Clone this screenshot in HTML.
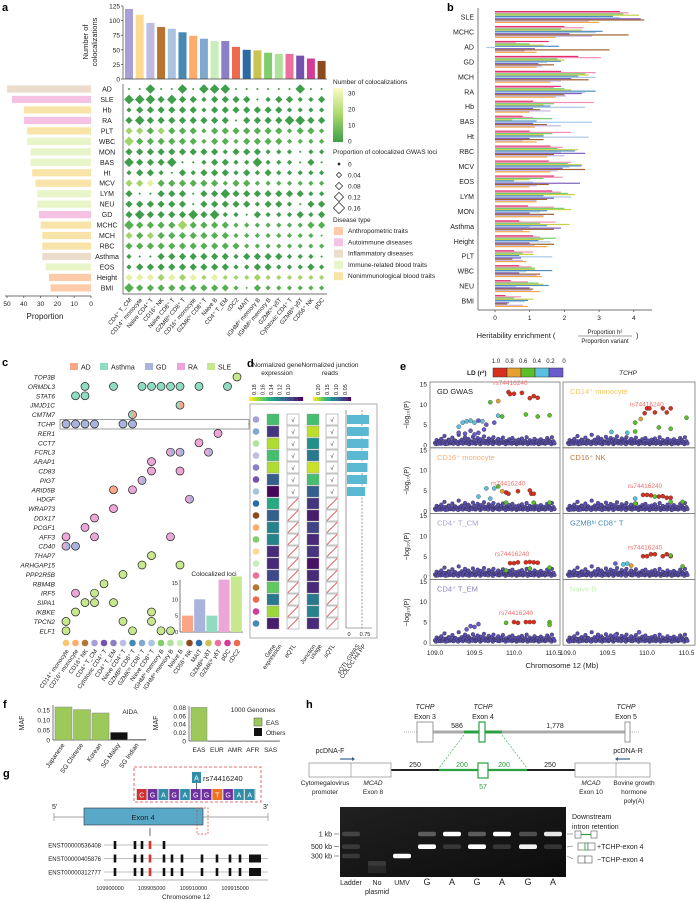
<!DOCTYPE html>
<html><head><meta charset="utf-8"><style>
html,body{margin:0;padding:0;background:#fff}
svg{display:block;font-family:"Liberation Sans",sans-serif}
</style></head><body>
<svg id="fig" xmlns="http://www.w3.org/2000/svg" width="696" height="901" viewBox="0 0 696 901">
<rect x="0" y="0" width="696" height="901" fill="#fff"/>
</svg>
<script>
// ---------- DATA ----------
const aCells=["CD4⁺ T_CM","CD14⁺ monocyte","Naive CD4⁺ T","CD16⁺ NK","Naive CD8⁺ T","GZMBʰⁱ CD8⁺ T","CD16⁺ monocyte","GZMKʰⁱ CD8⁺ T","Naive B","CD4⁺ T_EM","cDC2","MAIT","IGHMʰⁱ memory B","IGHMˡᵒ memory B","GZMKʰⁱ γδT","Cytotoxic CD4⁺ T","GZMBʰⁱ γδT","CD56⁺ NK","pDC"];
const aCounts=[120,110,96,89,86,80,74,69,65,65,55,50,49,45,43,43,40,35,31];
const aTraits=["AD","SLE","Hb","RA","PLT","WBC","MON","BAS","Ht","MCV","LYM","NEU","GD","MCHC","MCH","RBC","Asthma","EOS","Height","BMI"];
const aProportion=[50,47,40,40,38,38,36,36,35,33,32,32,31,30,29,29,29,27,25,24];
const aType=[2,1,4,1,4,3,3,3,4,4,3,3,1,4,4,4,2,3,0,0];
const aSizes=["1141141444111111411","4443433233331233223","2333333233333332222","3433333333133334433","3333333233333332332","4333333233233332222","3333333332333222122","4333411233224222131","2332132333232322222","3333333332332222222","3113331334333333322","3333331333332332133","3433334342213222323","4333343333222222233","3333333333222222221","3333333333322222222","2113333333233332221","2333333333223322232","3333333232223222222","4333333333213222222"];
const aColorLvl=["0000000000000000000","0000000000000000000","0000000000000000000","0000000000000000000","2212111111111111111","2111111111111111111","0000000000000000000","0000000000000000000","0000000000000000000","2231111111111111111","0000000000000000000","0000000000000000000","0000000000000000000","1111121111111111111","2121111111111111111","1111111111111111111","0000000000000000000","0000000000000000000","3332323232222222222","1111111111111111111"];
const bTraits=["SLE","MCHC","AD","GD","MCH","RA","Hb","BAS","Ht","RBC","MCV","EOS","LYM","MON","Asthma","Height","PLT","WBC","NEU","BMI"];
const bVals=[[3.6,3.85,3.7,4.15,3.4,3.6,4.2,4.3,2.7,3.0],[2.0,2.55,1.9,2.5,3.1,2.9,2.15,3.85,2.8,1.75],[1.55,0.6,1.0,1.4,1.85,-0.25,1.15,3.3,0.85,1.2],[2.4,3.05,1.8,2.0,1.9,1.5,1.25,1.7,1.35,1.2],[1.9,2.9,2.6,2.7,2.4,2.9,2.2,2.7,1.9,1.6],[1.9,1.7,2.0,2.2,2.9,2.6,2.5,2.0,2.05,1.75],[1.1,2.85,1.7,1.4,1.6,2.6,1.1,1.3,1.6,1.0],[0.8,1.1,1.65,0.5,1.2,2.8,1.1,1.5,1.9,1.15],[1.0,2.2,1.65,1.4,1.4,2.7,1.0,1.4,0.8,1.2],[1.6,1.95,1.8,2.4,2.3,1.9,2.6,1.7,2.0,1.5],[1.55,2.2,2.1,2.5,2.5,2.15,1.95,2.6,1.8,1.6],[1.7,1.95,1.4,1.0,0.55,1.1,2.45,1.55,1.2,1.0],[1.65,1.9,2.1,2.3,1.4,2.2,1.7,1.5,1.2,1.2],[0.95,1.7,2.0,2.2,1.5,1.3,1.0,1.7,1.4,1.4],[0.7,1.75,1.3,2.15,1.5,1.0,1.9,1.7,0.8,1.0],[1.1,1.3,1.75,1.4,1.25,1.6,1.0,1.7,1.15,1.5],[0.55,1.1,0.8,1.1,0.7,1.65,0.75,0.5,0.8,0.9],[0.7,1.05,1.15,1.15,1.65,0.9,0.7,1.3,1.2,1.35],[0.45,0.95,1.25,1.4,1.55,0.6,1.0,1.1,1.05,1.3],[0.3,0.75,0.55,1.1,0.95,0.85,0.4,0.35,0.8,0.95]];
const bTicks=[0,1,2,3,4];
const cGenes=["TOP3B","ORMDL3","STAT6","JMJD1C","CMTM7","TCHP","RER1","CCT7","FCRL3","ARAP1","CD83","PIGT","ARID5B","HDGF","WRAP73","DDX17","PCGF1","AFF3","CD40","THAP7","ARHGAP15","PPP2R5B","RBM4B","IRF5","SIPA1","IKBKE","TPCN2","ELF1"];
const cDiseases=["AD","Asthma","GD","RA","SLE"];
const cDots=[[0,18,4,-1],[1,2,1,-1],[1,5,1,-1],[1,8,1,-1],[1,9,1,-1],[1,10,1,-1],[1,11,1,-1],[1,12,1,-1],[1,14,1,-1],[1,17,1,-1],[2,1,1,-1],[2,2,1,-1],[3,12,1,0],[4,7,1,0],[5,0,2,-1],[5,1,2,-1],[5,2,2,-1],[5,3,2,-1],[5,6,2,-1],[5,7,2,-1],[6,16,3,-1],[7,14,3,-1],[8,11,3,2],[8,12,3,2],[8,15,3,2],[9,9,3,-1],[10,9,3,-1],[10,12,3,-1],[11,8,3,2],[12,5,0,-1],[12,7,3,-1],[13,13,3,2],[14,5,3,-1],[15,3,3,-1],[16,2,3,-1],[17,0,3,-1],[17,3,3,-1],[17,11,3,-1],[18,0,3,2],[18,1,2,-1],[19,9,4,-1],[20,8,4,-1],[20,12,4,-1],[21,6,4,-1],[22,4,4,-1],[23,1,3,-1],[23,3,4,-1],[24,2,4,-1],[24,3,4,-1],[24,5,4,-1],[25,1,4,-1],[25,9,4,-1],[26,0,4,-1],[26,6,4,-1],[26,9,4,-1],[27,0,4,-1],[27,7,4,-1],[27,10,4,-1],[27,11,4,-1]];
const cCells=["CD14⁺ monocyte","CD16⁺ monocyte","CD16⁺ NK","CD4⁺ T_CM","Cytotoxic CD4⁺ T","CD4⁺ T_EM","Naive CD4⁺ T","GZMBʰⁱ CD8⁺ T","GZMKʰⁱ CD8⁺ T","Naive CD8⁺ T","IGHMʰⁱ memory B","IGHMˡᵒ memory B","Naive B","CD56⁺ NK","MAIT","GZMBʰⁱ γδT","GZMKʰⁱ γδT","pDC","cDC2"];
const cLociCounts=[5,5,10,16,17];
const cLociOrder=[0,2,1,3,4];
const dGeneExpr=[0.7,0.15,0.88,0.7,0.88,0.3,0.02,0.6,0.3,0.45,0.45,0.12,0.12,0.22,0.75,0.4,0.85,0.08];
const dJunction=[0.7,0.9,0.5,0.4,0.92,0.7,0.3,0.15,0.08,0.2,0.12,0.15,0.05,0.12,0.12,0.4,0.45,0.12];
const dEqtl=[1,1,1,1,1,1,1,0,0,0,0,0,0,0,0,0,0,0];
const dSqtl=[1,1,1,1,1,1,1,0,0,0,0,0,0,0,0,0,0,0];
const dColoc=[0.97,0.96,0.95,0.93,0.9,0.88,0.8,0,0,0,0,0,0,0,0,0,0,0];
const eTitles=["GD GWAS","CD14⁺ monocyte","CD16⁺ monocyte","CD16⁺ NK","CD4⁺ T_CM","GZMBʰⁱ CD8⁺ T","CD4⁺ T_EM","Naive B"];
const eBgX=[109.0,109.02,109.04,109.06,109.08,109.1,109.12,109.14,109.16,109.18,109.2,109.22,109.24,109.26,109.28,109.3,109.32,109.34,109.36,109.38,109.4,109.42,109.44,109.46,109.48,109.5,109.52,109.54,109.56,109.58,109.6,109.62,109.64,109.66,109.68,109.7,109.72,109.74,109.76,109.78,109.8,109.82,109.84,109.86,109.88,109.9,109.92,109.94,109.96,109.98,110.0,110.02,110.04,110.06,110.08,110.1,110.12,110.14,110.16,110.18,110.2,110.22,110.24,110.26,110.28,110.3,110.32,110.34,110.36,110.38,110.4,110.42,110.44,110.46,110.48,110.5];
const eBgY=[0.5,1.2,0.3,0.8,1.5,0.4,2.2,0.9,0.3,1.1,0.6,1.8,0.4,1.0,0.7,2.5,0.5,1.3,0.8,1.9,0.4,1.5,1.1,0.6,2.0,1.2,0.5,1.7,0.9,1.4,0.6,2.1,1.0,0.5,1.6,0.8,1.3,1.9,0.6,1.0,1.5,0.4,1.2,1.8,0.7,1.0,0.5,1.4,0.9,1.7,0.6,1.1,0.4,1.3,0.8,1.6,0.5,1.0,1.9,0.7,1.2,0.4,0.9,1.5,0.6,1.1,0.3,1.4,0.8,1.0,0.5,1.7,1.2,0.6,1.9,0.9];
const eBgY2=[0.2,0.6,1.0,0.3,0.5,0.9,0.2,0.7,1.3,0.4,0.8,0.3,1.1,0.5,0.2,0.9,0.6,0.3,1.2,0.5,0.8,0.2,0.7,0.4,1.0,0.3,0.6,0.9,0.2,0.5,1.1,0.4,0.7,0.3,0.9,0.5,0.2,0.8,0.6,0.4,0.3,0.9,0.5,0.7,0.2,0.6,0.4,0.8,0.3,0.5,0.9,0.2,0.7,0.4,0.6,0.3,0.8,0.5,0.2,0.7,0.4,0.9,0.3,0.6,0.5,0.2,0.8,0.4,0.6,0.3,0.7,0.5,0.9,0.2,0.6,0.4];
const eHi=[
[[109.3,4.5,3],[109.35,5.5,3],[109.4,5.8,3],[109.45,6,3],[109.5,5.5,3],[109.55,6,4],[109.6,5.8,3],[109.65,5,4],[109.3,3,4],[109.45,3.5,4],[109.55,3,4],[109.62,3.8,4],[109.38,2.8,4],[109.5,2.6,4],[109.75,5.5,4],[109.8,7.2,3],[109.85,7,2],[109.7,10.5,2],[109.8,10.8,1],[109.93,13,0],[109.95,12.5,0],[110.0,12.6,0],[110.1,12.8,0],[110.2,11.5,0],[110.25,12,0],[110.3,11.6,0],[110.15,7.5,2],[110.3,7,2],[110.45,7.3,2]],
[[109.55,3.2,3],[109.75,3,3],[109.85,5.5,2],[109.85,3.3,2],[109.92,6.4,1],[109.97,7.8,0],[110.0,9,0],[110.03,9,0],[110.1,8,0],[110.2,9,0],[110.25,8,0],[110.3,9,0],[110.15,4.3,2],[110.3,4,2],[110.5,6.7,2]],
[[109.55,3.5,3],[109.65,5.5,3],[109.75,5.5,3],[109.8,6,2],[109.7,3,3],[109.85,4.8,1],[109.9,4.5,0],[109.93,4.2,0],[110.05,4.8,0],[110.2,5,0],[110.22,4.2,0],[110.25,4.2,0],[109.9,2,2],[110.25,2,2],[110.45,2,2]],
[[109.85,3,3],[109.95,3.9,0],[110.0,3.9,0],[110.05,3.8,0],[110.15,3.5,0],[110.2,3.6,0],[110.25,3.2,0],[110.3,3.2,0],[110.1,3.5,2],[110.3,2.2,2],[110.45,2.2,2],[109.85,1.8,2]],
[[109.95,3.3,0],[110.0,3.3,0],[110.05,3.5,0],[110.15,3.5,0],[110.2,3.6,0],[110.25,3.5,0],[110.3,3.4,0],[110.2,2,2],[110.45,2.2,2],[109.9,1.5,2]],
[[109.7,3,3],[109.8,2.7,1],[109.75,3.2,3],[109.95,5,0],[110.0,5,0],[110.05,5.5,0],[110.1,5.5,0],[110.2,5,0],[110.25,5.5,0],[110.3,5,0],[110.3,5.2,2],[110.45,2.5,2],[109.6,3.2,4]],
[[109.55,4.5,4],[109.5,3.8,4],[109.45,4,4],[109.4,3.2,4],[109.9,4.8,2],[110.0,5,0],[110.05,4.8,0],[110.15,5,0],[110.2,5,0],[110.25,5,0],[110.45,5,2],[110.45,4.3,2]],
[[109.9,2.5,4],[109.6,1.8,4]]];
const eLD=["#d7301f","#e6a030","#5cbf2a","#5bc0de","#6a5acd"];
const fAidaPops=["Japanese","SG Chinese","Korean","SG Malay","SG Indian"];
const fAidaMaf=[0.165,0.152,0.135,0.038,0.003];
const fAidaTicks=[0,0.05,0.10,0.15];
const fKgPops=["EAS","EUR","AMR","AFR","SAS"];
const fKgMaf=[0.08,0.0005,0.0005,0.0005,0.0005];
const fKgTicks=[0,0.02,0.04,0.06,0.08];
const hLanes=["Ladder","No plasmid","UMV","G","A","G","A","G","A"];
const hBands=[[[1000,0.18],[500,0.14],[300,0.14]],[[200,0.1]],[[300,1]],[[500,1],[1000,0.3]],[[1000,1],[500,0.15]],[[500,1],[1000,0.3]],[[1000,1],[500,0.15]],[[500,0.95],[1000,0.25]],[[1000,0.9],[500,0.15]]];
const gTicks=[109900000,109905000,109910000,109915000];

// ---------- HELPERS ----------
const NS="http://www.w3.org/2000/svg";
const svg=document.getElementById("fig");
function E(tag,attrs,name,inter,parent){
  const el=document.createElementNS(NS,tag);
  for(const k in attrs) el.setAttribute(k,attrs[k]);
  
  
  (parent||svg).appendChild(el);
  return el;
}
function T(x,y,txt,size,name,o){
  o=o||{};
  const a={x:x,y:y,"font-size":size,fill:o.fill||"#222"};
  if(o.anchor)a["text-anchor"]=o.anchor;
  if(o.weight)a["font-weight"]=o.weight;
  if(o.style)a["font-style"]=o.style;
  if(o.rot!==undefined)a.transform="rotate("+o.rot+" "+x+" "+y+")";
  const el=E("text",a,name,false);
  el.textContent=txt;
  return el;
}
function L(x1,y1,x2,y2,name,stroke,w,dash){
  const a={x1:x1,y1:y1,x2:x2,y2:y2,stroke:stroke||"#444","stroke-width":w||0.7};
  if(dash)a["stroke-dasharray"]=dash;
  return E("line",a,name,false);
}
function R(x,y,w,h,fill,name,o){
  o=o||{};
  const a={x:x,y:y,width:w,height:h,fill:fill};
  if(o.stroke){a.stroke=o.stroke;a["stroke-width"]=o.sw||0.7;}
  if(o.op!==undefined)a.opacity=o.op;
  return E("rect",a,name,false);
}
function viridis(t){
  const s=[[68,1,84],[72,40,120],[62,74,137],[49,104,142],[38,130,142],[31,158,137],[53,183,121],[110,206,88],[181,222,43],[253,231,37]];
  t=Math.max(0,Math.min(1,t))*9;const i=Math.min(8,Math.floor(t)),f=t-i;
  const c=s[i].map((v,k)=>Math.round(v+(s[i+1][k]-v)*f));
  return "rgb("+c.join(",")+")";
}
const cellColors=["#a89fd6","#fdd991","#bcbde0","#b5752f","#a9c3e0","#4689b5","#fdac6b","#80a8cc","#c9eebd","#8b80c6","#ef6a4d","#2c6aa6","#c9c454","#7fcd6b","#afe29b","#ec6fa0","#7451ac","#d43a97","#8b4b1f"];
const typeColors=["#fdcbaa","#f5c2e4","#ecdccb","#e8f5c8","#f8e4a8"];
const typeNames=["Anthropometric traits","Autoimmune diseases","Inflammatory diseases","Immune-related blood traits","Nonimmunological blood traits"];

// ---------- PANEL A ----------
T(2,11,"a",11,"panel-a-label",{weight:"bold",fill:"#000"});
const aY=v=>79-v*(73/125), aColX=j=>129+j*10.7, aRowY=i=>89+i*10.47;
L(123,6,123,79,"a-top-y-axis");
[0,25,50,75,100,125].forEach(v=>{T(120,aY(v)+2.5,String(v),6.5,"a-top-y-tick",{anchor:"end"});L(121,aY(v),123,aY(v),"a-top-y-tick-mark");});
T(88,42,"Number of",7.5,"a-top-y-title",{anchor:"middle",rot:-90});
T(97,42,"colocalizations",7.5,"a-top-y-title",{anchor:"middle",rot:-90});
aCounts.forEach((v,j)=>{
  E("rect",{x:aColX(j)-4,y:aY(v),width:8,height:79-aY(v),fill:cellColors[j]},"bar-count-"+j,false);
});
L(123,79,327,79,"a-top-x-axis");
L(123,84,123,294,"a-matrix-y-axis");L(123,294,327,294,"a-matrix-x-axis");
const dSize=[0,1.3,2.6,3.6,4.8], dCol=["#3f9e4a","#56b052","#a2d46a","#e6f0a2"];
aTraits.forEach((t,i)=>{
  for(let j=0;j<aCells.length;j++){
    const s=dSize[+aSizes[i][j]], cx=aColX(j), cy=aRowY(i);
    E("polygon",{points:(cx)+","+(cy-s)+" "+(cx+s)+","+cy+" "+cx+","+(cy+s)+" "+(cx-s)+","+cy,fill:dCol[+aColorLvl[i][j]]},"coloc-diamond",false);
  }
  T(107,aRowY(i)+2.5,t,7,"a-trait-label",{anchor:"middle"});
  const v=aProportion[i];
  R(91-v*1.68,aRowY(i)-3.6,v*1.68,7.2,typeColors[aType[i]],"proportion-bar");
});
L(5,296,91,296,"a-left-x-axis");
[50,40,30,20,10,0].forEach(v=>{T(91-v*1.68,306,String(v),6.5,"a-left-x-tick",{anchor:"middle"});L(91-v*1.68,296,91-v*1.68,298,"a-left-tick-mark");});
T(45,319,"Proportion",8,"a-left-x-title",{anchor:"middle"});
aCells.forEach((c,j)=>T(aColX(j)+3,300,c,6,"a-cell-label",{anchor:"end",rot:-50}));
T(333,84,"Number of colocalizations",6.5,"a-legend-title");
const grd=E("linearGradient",{id:"gy",x1:"0",y1:"0",x2:"0",y2:"1"},"gradient-def",false);
[["0","#fbfbc4"],["0.5","#a8d86a"],["1","#3f9e4a"]].forEach(s=>E("stop",{offset:s[0],"stop-color":s[1]},"gradient-stop",false,grd));
R(333,88,10,54,"url(#gy)","a-colorbar");
[[30,93],[20,109],[10,125],[0,141]].forEach(p=>T(348,p[1]+2.5,String(p[0]),6.5,"a-colorbar-tick"));
T(333,154,"Proportion of colocalized GWAS loci",6.5,"a-size-legend-title");
[["0",1.2],["0.04",2.6],["0.08",3.6],["0.12",4.6],["0.16",5.6]].forEach((p,k)=>{
  const cy=164+k*11,s=p[1];
  E("polygon",{points:339+","+(cy-s)+" "+(339+s)+","+cy+" 339,"+(cy+s)+" "+(339-s)+","+cy,fill:k?"#fff":"#222",stroke:"#222","stroke-width":0.7},"size-legend-diamond",false);
  T(348,cy+2.5,p[0],6.5,"size-legend-label");
});
T(333,222,"Disease type",6.5,"a-disease-legend-title");
typeNames.forEach((n,k)=>{R(334,227+k*11.3,9,8,typeColors[k],"disease-legend-swatch");T(348,233+k*11.3,n,6.5,"disease-legend-label");});

// ---------- PANEL B ----------
T(447,11,"b",11,"panel-b-label",{weight:"bold",fill:"#000"});
const bX=v=>495+v*34.7, bRow=i=>17+i*14.95;
const bColors=["#e03070","#f48fb1","#6fcf6f","#c8d048","#4f8fc0","#a8c8e8","#7f5fbf","#a0602f","#c4b4e4","#f5a845"];
L(478,8,478,310,"b-y-axis");L(478,310,652,310,"b-x-axis");
bTraits.forEach((t,i)=>{
  T(474,bRow(i)+2.5,t,7,"b-trait-label",{anchor:"end"});
  bVals[i].forEach((v,k)=>{
    const x0=Math.min(bX(0),bX(v)),w=Math.abs(bX(v)-bX(0));
    R(x0,bRow(i)-6+k*1.2,w,1.2,bColors[k],"enrichment-bar");
  });
});
bTicks.forEach(v=>{L(bX(v),310,bX(v),312,"b-tick-mark");T(bX(v),320,String(v),6.5,"b-x-tick",{anchor:"middle"});});
T(516,338,"Heritability enrichment (",7.5,"b-x-title",{anchor:"middle"});
T(605,334,"Proportion h²",6,"b-x-title-num",{anchor:"middle"});
L(578,336,632,336,"b-title-fraction-line","#444",0.5);
T(605,343,"Proportion variant",6,"b-x-title-den",{anchor:"middle"});
T(636,338,")",7.5,"b-x-title-close");

// ---------- PANEL C ----------
T(2,366,"c",11,"panel-c-label",{weight:"bold",fill:"#000"});
const dis=["#f9a586","#90dcc2","#a9b4dc","#eca6d8","#c8e88e"];
const cLx=[70,100,145,177,207];
cDiseases.forEach((d,k)=>{R(cLx[k],363,8,7,dis[k],"c-legend-swatch");T(cLx[k]+11,369.5,d,7,"c-legend-label");});
const cY=i=>377+i*9.4, cX=j=>66+j*9.5;
R(60,419.5,189,9.5,"none","tchp-highlight-box",{stroke:"#777",sw:0.7});
cGenes.forEach((g,i)=>T(55,cY(i)+2.5,g,6.5,"c-gene-label",{anchor:"end",style:"italic"}));
cDots.forEach(d=>{
  const cx=cX(d[1]),cy=cY(d[0]);
  E("circle",{cx:cx,cy:cy,r:4,fill:dis[d[2]],stroke:"#222","stroke-width":0.7},"coloc-dot",false);
  if(d[3]>=0)E("path",{d:"M"+cx+","+(cy-3.6)+" A3.6,3.6 0 0 1 "+cx+","+(cy+3.6)+" Z",fill:dis[d[3]]},"coloc-dot-half",false);
});
cCells.forEach((c,j)=>{
  const col=["#f8c870","#fdac6b","#b5752f","#a89fd6","#7451ac","#8b80c6","#bcbde0","#4689b5","#80a8cc","#a9c3e0","#7fcd6b","#afe29b","#c9eebd","#8b4b1f","#2c6aa6","#c9c454","#ec6fa0","#d43a97","#ef6a4d"][j];
  E("circle",{cx:cX(j),cy:643,r:3.3,fill:col},"c-cell-dot",false);
  T(cX(j)+3,651,c,6,"c-cell-label",{anchor:"end",rot:-55});
});
T(214,576,"Colocalized loci",6.5,"inset-title",{anchor:"middle"});
const iY=v=>632-v*3.27;
L(180,580,180,632,"inset-y-axis");L(180,632,243,632,"inset-x-axis");
[5,10,15].forEach(v=>T(178,iY(v)+2,String(v),5.5,"inset-tick",{anchor:"end"}));
T(178,634,"0",5.5,"inset-tick",{anchor:"end"});
cLociOrder.forEach((d,k)=>R(182+k*12.2,iY(cLociCounts[d]),11,632-iY(cLociCounts[d]),dis[d],"inset-bar-"+cDiseases[d]));

// ---------- PANEL D ----------
T(247,367,"d",11,"panel-d-label",{weight:"bold",fill:"#000"});
T(277,367,"Normalized gene",6.5,"d-header-gene",{anchor:"middle"});
T(277,375,"expression",6.5,"d-header-gene",{anchor:"middle"});
T(330,367,"Normalized junction",6.5,"d-header-junction",{anchor:"middle"});
T(330,375,"reads",6.5,"d-header-junction",{anchor:"middle"});
["0.18","0.16","0.14","0.12","0.10"].forEach((t,k)=>T(256+k*8.5,395,t,5.5,"d-gene-tick",{rot:-90}));
["0.20","0.15","0.10","0.05"].forEach((t,k)=>T(320+k*9,395,t,5.5,"d-junction-tick",{rot:-90}));
for(let k=0;k<20;k++){R(249+k*2.7,397,2.8,4,viridis(1-k/19),"d-gene-colorbar");R(313+k*1.9,397,2,4,viridis(1-k/19),"d-junction-colorbar");}
R(250,404,127,234,"none","d-panel-box",{stroke:"#999",sw:0.8});
L(248,424,250,424,"d-link-line","#888");
const dY=i=>414+i*12;
L(362,410,362,628,"coloc-threshold-line","#555",0.6,"2,1.5");
L(346,410,346,628,"d-bar-axis","#555",0.6);
dGeneExpr.forEach((v,i)=>{
  E("circle",{cx:256,cy:dY(i)+5.5,r:3.3,fill:cellColors[(i*7)%19]},"d-cell-dot",false);
  R(267,dY(i),12,11,viridis(v),"gene-expr-cell",{stroke:"#999",sw:0.4});
  R(287,dY(i),12,11,"#fff","eqtl-cell",{stroke:"#888",sw:0.5});
  if(dEqtl[i])T(293,dY(i)+8,"√",6,"eqtl-check",{anchor:"middle"});else L(288,dY(i)+10.5,298,dY(i)+0.5,"eqtl-slash","#e03030",0.8);
  R(307,dY(i),12,11,viridis(dJunction[i]),"junction-cell",{stroke:"#999",sw:0.4});
  R(326,dY(i),12,11,"#fff","sqtl-cell",{stroke:"#888",sw:0.5});
  if(dSqtl[i])T(332,dY(i)+8,"√",6,"sqtl-check",{anchor:"middle"});else L(327,dY(i)+10.5,337,dY(i)+0.5,"sqtl-slash","#e03030",0.8);
  if(dColoc[i]>0)R(347,dY(i)+1,dColoc[i]*22.7,9,"#5bb8d2","coloc-pp-bar");
});
L(346,628,372,628,"d-bar-x-axis","#555",0.6);
T(349,636,"0",5.5,"d-bar-tick",{anchor:"middle"});T(365,636,"0.75",5.5,"d-bar-tick",{anchor:"middle"});
[["Gene","expression",273],["eQTL","",293],["Junction","usage",313],["sQTL","",332],["sQTL-GWAS","COLOC H4 PP",357]].forEach(p=>{
  T(p[2]+3,646,p[0],6,"d-column-label",{anchor:"end",rot:-55});
  if(p[1])T(p[2]+9,646,p[1],6,"d-column-label",{anchor:"end",rot:-55});
});

// ---------- PANEL E ----------
T(400,370,"e",11,"panel-e-label",{weight:"bold",fill:"#000"});
["1.0","0.8","0.6","0.4","0.2","0"].forEach((t,k)=>T(496+k*13.6,363,t,6,"ld-tick",{anchor:"middle"}));
eLD.forEach((c,k)=>R(493+k*14,368,14,9,c,"ld-colorbar-cell",{stroke:"#333",sw:0.5}));
T(467,375,"LD (r²)",6.5,"ld-title",{weight:"bold"});
T(628,375,"TCHP",6.5,"gene-title",{anchor:"middle",style:"italic"});
const eTitleCol=["#222","#f5c860","#fdac6b","#c07a40","#a89fd6","#4689b5","#8b80c6","#c9eebd"];
for(let p=0;p<8;p++){
  const col=p%2,row=Math.floor(p/2);
  const x0=col?563:430,x1=col?695:560,y0=382+row*65.8;
  const xs=v=>x0+5+(v-109.0)*79,ys=v=>y0+63-v*4.07;
  R(x0,y0,x1-x0,65.8,"none","locus-panel-frame",{stroke:"#777",sw:0.8});
  eBgX.forEach((x,k)=>{
    E("circle",{cx:xs(x),cy:ys(eBgY[k]),r:1.9,fill:"#5b4fb0",stroke:"#222","stroke-width":0.3},"bg-snp",false);
    E("circle",{cx:xs(x)+1,cy:ys(eBgY2[k]),r:1.9,fill:"#5b4fb0",stroke:"#222","stroke-width":0.3},"bg-snp",false);
  });
  eHi[p].forEach(h=>E("circle",{cx:xs(h[0]),cy:ys(h[1]),r:2.1,fill:eLD[h[2]],stroke:"#222","stroke-width":0.3},"ld-snp",false));
  T(x0+7,y0+12,eTitles[p],7.5,"locus-panel-title",{fill:eTitleCol[p]});
  if(p<7){
    const lead=eHi[p].filter(h=>h[2]===0)[0];
    T(xs(lead[0])+2,ys(lead[1])-7,"rs74416240",6.5,"lead-snp-label",{fill:"#f07070",anchor:"middle"});
  }
  if(!col){
    [0,5,10,15].forEach(v=>T(427,ys(v)+2.5,String(v),6.5,"e-y-tick",{anchor:"end"}));
    T(409,y0+33,"−log₁₀(P)",7,"e-y-title",{anchor:"middle",rot:-90});
  }
  if(row===3)[109.0,109.5,110.0,110.5].forEach(v=>T(xs(v),655,v.toFixed(1),6.5,"e-x-tick",{anchor:"middle"}));
}
T(562,668,"Chromosome 12 (Mb)",7.5,"e-x-title",{anchor:"middle"});

// ---------- PANEL F ----------
T(3,708,"f",11,"panel-f-label",{weight:"bold",fill:"#000"});
const fY=v=>740-v*200;
L(53,705,53,740,"f-aida-y-axis");L(53,740,146,740,"f-aida-x-axis");
fAidaTicks.forEach(v=>T(50,fY(v)+2.5,v===0?"0":v.toFixed(2),6.5,"f-aida-tick",{anchor:"end"}));
T(24,723,"MAF",7,"f-aida-y-title",{anchor:"middle",rot:-90});
T(130,714,"AIDA",6.5,"f-aida-title",{anchor:"middle"});
fAidaPops.forEach((n,k)=>{
  const v=fAidaMaf[k];
  R(55+k*18.5,fY(v),17,740-fY(v),k<3?"#9cc95a":"#111","aida-bar-"+k,{stroke:"#888",sw:0.5});
  T(65+k*18.5,745,n,6.5,"f-aida-pop-label",{anchor:"end",rot:-55});
});
const fY2=v=>741-v*420;
L(189,706,189,741,"f-kg-y-axis");L(189,741,280,741,"f-kg-x-axis");
fKgTicks.forEach(v=>T(186,fY2(v)+2.5,v===0?"0":v.toFixed(2),6.5,"f-kg-tick",{anchor:"end"}));
T(158,723,"MAF",7,"f-kg-y-title",{anchor:"middle",rot:-90});
T(253,712,"1000 Genomes",6.5,"f-kg-title",{anchor:"middle"});
fKgPops.forEach((n,k)=>{
  const v=fKgMaf[k];
  R(191+k*17.9,fY2(v),16,Math.max(0.8,741-fY2(v)),k===0?"#9cc95a":"#999","kg-bar-"+k,{stroke:"#888",sw:0.5});
  T(199+k*17.9,752,n,6.5,"f-kg-pop-label",{anchor:"middle"});
});
R(254,718,8,8,"#9cc95a","legend-eas-swatch",{stroke:"#555",sw:0.5});T(266,725,"EAS",6.5,"legend-eas-label");
R(254,728,8,8,"#111","legend-others-swatch");T(266,735,"Others",6.5,"legend-others-label");

// ---------- PANEL G ----------
T(3,777,"g",11,"panel-g-label",{weight:"bold",fill:"#000"});
E("rect",{x:134,y:767,width:127,height:35,fill:"none",stroke:"#e04040","stroke-width":0.8,"stroke-dasharray":"3,2"},"snp-zoom-box",false);
const seq=["C","G","A","G","A","G","G","T","G","A","A"],seqC={A:"#2f8fa8",C:"#d03030",G:"#7030a0",T:"#f07020"};
R(136,789,120,11,"#d8d8d8","sequence-strip");
seq.forEach((s,k)=>{R(137+k*10.8,789,9.5,11,seqC[s],"base-"+s);T(141.7+k*10.8,797.5,s,7,"base-letter",{anchor:"middle",fill:"#fff"});});
R(192,772,9,11,"#2f8fa8","alt-allele-box");T(196.5,780.5,"A",7,"alt-allele",{anchor:"middle",fill:"#fff"});
L(196.5,783,196.5,789,"alt-allele-line","#333");
T(203,781,"rs74416240",7.5,"snp-label");
T(52,809,"5′",7,"five-prime");T(263,809,"3′",7,"three-prime");
L(54,817,268,817,"gene-line","#888",0.8);L(54,813,54,821,"gene-end","#888");L(268,813,268,821,"gene-end","#888");
R(84,808,119,17,"#5aa8c8","exon4-box",{stroke:"#333",sw:0.6});T(143,820,"Exon 4",7.5,"exon4-label",{anchor:"middle"});
E("rect",{x:197,y:808,width:11,height:26,fill:"none",stroke:"#e04040","stroke-width":0.7,"stroke-dasharray":"2,1.5"},"snp-position-box",false);
L(150,828,150,836,"exon4-pointer","#333");
const gTx=["ENST00000536408","ENST00000405876","ENST00000312777"];
const gEx=[[115,135,142,150,164],[115,135,142,150,164,172,182,202,217,230,240],[115,135,142,150,164,172,182,202,217,230,240]];
gTx.forEach((t,k)=>{
  const y=845+k*13.5;
  T(101,y+2.5,t,6,"transcript-label",{anchor:"end"});
  L(104,y,268,y,"transcript-line","#aaa",0.8);
  gEx[k].forEach(x=>R(x-1.3,y-4,2.6,8,x===150?"#e03030":"#111","transcript-exon"));
  if(k)R(249,y-4,12,8,"#111","transcript-utr");
});
L(104,880,268,880,"g-x-axis","#666",0.6);
gTicks.forEach((v,k)=>T(110+k*41.7,890,String(v),5.5,"g-x-tick",{anchor:"middle"}));
T(186,899,"Chromosome 12",6.5,"g-x-title",{anchor:"middle"});

// ---------- PANEL H ----------
T(306,708,"h",11,"panel-h-label",{weight:"bold",fill:"#000"});
L(404,732,417,732,"h-intron-dotted","#aaa",1,"1,1");L(630,732,640,732,"h-intron-dotted","#aaa",1,"1,1");
L(417,732,630,732,"h-intron","#aaa",3);
L(464,732,502,732,"h-exon4-region","#2aa040",3);
R(417,722,16,20,"#fff","h-exon3",{stroke:"#999",sw:1});
R(479,722,6,20,"#fff","h-exon4",{stroke:"#2aa040",sw:1.2});
R(625,722,5,20,"#fff","h-exon5",{stroke:"#999",sw:1});
[["TCHP",425],["TCHP",483],["TCHP",626]].forEach(p=>T(p[1],709,p[0],7,"h-gene-name",{anchor:"middle",style:"italic"}));
[["Exon 3",425],["Exon 4",483],["Exon 5",626]].forEach(p=>T(p[1],719,p[0],7,"h-exon-name",{anchor:"middle"}));
T(457,728,"586",7,"h-intron-length",{anchor:"middle"});T(555,728,"1,778",7,"h-intron-length",{anchor:"middle"});
L(464,735,439,768,"h-zoom-line","#2aa040",0.6,"2,1.5");L(502,735,527,768,"h-zoom-line","#2aa040",0.6,"2,1.5");
L(391,770,575,770,"construct-line","#222",2);
L(439,770,527,770,"construct-insert","#2aa040",2.2);
R(309,763,82,14,"#fff","cmv-box",{stroke:"#999",sw:0.8});L(351,763,351,777,"cmv-divider","#999");
R(575,763,75,14,"#fff","bgh-box",{stroke:"#999",sw:0.8});L(616,763,616,777,"bgh-divider","#999");
R(478,763,10,15,"#fff","construct-exon4",{stroke:"#2aa040",sw:1.2});
T(415,767,"250",7,"construct-len",{anchor:"middle"});T(462,767,"200",7,"construct-len",{anchor:"middle",fill:"#2aa040"});
T(504,767,"200",7,"construct-len",{anchor:"middle",fill:"#2aa040"});T(550,767,"250",7,"construct-len",{anchor:"middle"});
T(483,789,"57",7,"construct-exon-len",{anchor:"middle",fill:"#2aa040"});
T(330,753,"pcDNA-F",7,"primer-f-label",{anchor:"middle"});L(340,759,352,759,"primer-f-arrow","#35608a",1.2);
E("polygon",{points:"352,757 355,759 352,761",fill:"#35608a"},"primer-f-head",false);
T(628,753,"pcDNA-R",7,"primer-r-label",{anchor:"middle"});L(618,759,630,759,"primer-r-arrow","#35608a",1.2);
E("polygon",{points:"618,757 615,759 618,761",fill:"#35608a"},"primer-r-head",false);
T(325,785,"Cytomegalovirus",6.5,"cmv-label",{anchor:"middle"});T(325,794,"promoter",6.5,"cmv-label",{anchor:"middle"});
T(373,785,"MCAD",6.5,"mcad8-label",{anchor:"middle",style:"italic"});T(373,794,"Exon 8",6.5,"mcad8-label",{anchor:"middle"});
T(591,785,"MCAD",6.5,"mcad10-label",{anchor:"middle",style:"italic"});T(591,794,"Exon 10",6.5,"mcad10-label",{anchor:"middle"});
T(634,785,"Bovine growth",6.5,"bgh-label",{anchor:"middle"});T(634,794,"hormone",6.5,"bgh-label",{anchor:"middle"});T(634,803,"poly(A)",6.5,"bgh-label",{anchor:"middle"});
const gd=E("linearGradient",{id:"gelg",x1:"0",y1:"0",x2:"1",y2:"1"},"gel-gradient",false);
[["0","#202020"],["1","#0c0c0c"]].forEach(s=>E("stop",{offset:s[0],"stop-color":s[1]},"gel-stop",false,gd));
R(340,807,226,70,"url(#gelg)","gel-image");
const bY=bp=>834+(3-Math.log10(bp))/Math.log10(1000/300)*22;
const laneX=[351,377,402,427,452,477,502,528,553];
hLanes.forEach((n,k)=>{
  hBands[k].forEach(b=>{
    E("rect",{x:laneX[k]-9,y:bY(b[0])-2.3,width:18,height:4.6,rx:2,fill:"#fff",opacity:b[1]},"gel-band",false);
  });
  if(k===1)E("rect",{x:laneX[k]-9,y:861,width:18,height:12,fill:"#555",opacity:0.3},"gel-smear",false);
});
hLanes.forEach((n,k)=>{
  if(n==="No plasmid"){T(laneX[k],885,"No",7,"lane-label",{anchor:"middle"});T(laneX[k],894,"plasmid",7,"lane-label",{anchor:"middle"});}
  else T(laneX[k],885,n,n.length===1?9:7,"lane-label",{anchor:"middle"});
});
[["1 kb",1000],["500 kb",500],["300 kb",300]].forEach(p=>{T(332,bY(p[1])+2.5,p[0],7,"ladder-size-label",{anchor:"end"});L(334,bY(p[1]),339,bY(p[1]),"ladder-arrow","#555",0.6);});
T(572,819,"Downstream",7,"band-legend-intron",{});T(572,829,"intron retention",7,"band-legend-intron",{});
R(575,831,6,7,"#fff","icon-exon",{stroke:"#555",sw:0.6});L(581,834.5,591,834.5,"icon-retained","#2aa040",1.2);R(591,831,6,7,"#fff","icon-exon",{stroke:"#555",sw:0.6});
R(578,843,7,7,"#fff","icon-exon",{stroke:"#555",sw:0.6});R(585,843,3,7,"#fff","icon-exon4",{stroke:"#2aa040",sw:0.8});R(588,843,7,7,"#fff","icon-exon",{stroke:"#555",sw:0.6});
T(597,849,"+TCHP-exon 4",7,"band-legend-plus");
R(578,856,7,7,"#fff","icon-exon",{stroke:"#555",sw:0.6});R(585,856,7,7,"#fff","icon-exon",{stroke:"#555",sw:0.6});
T(597,862,"−TCHP-exon 4",7,"band-legend-minus");
[834,847,856].forEach((y,k)=>L(567,y,573,[834,846,859][k],"band-legend-pointer","#555",0.5));
</script>
</body></html>
